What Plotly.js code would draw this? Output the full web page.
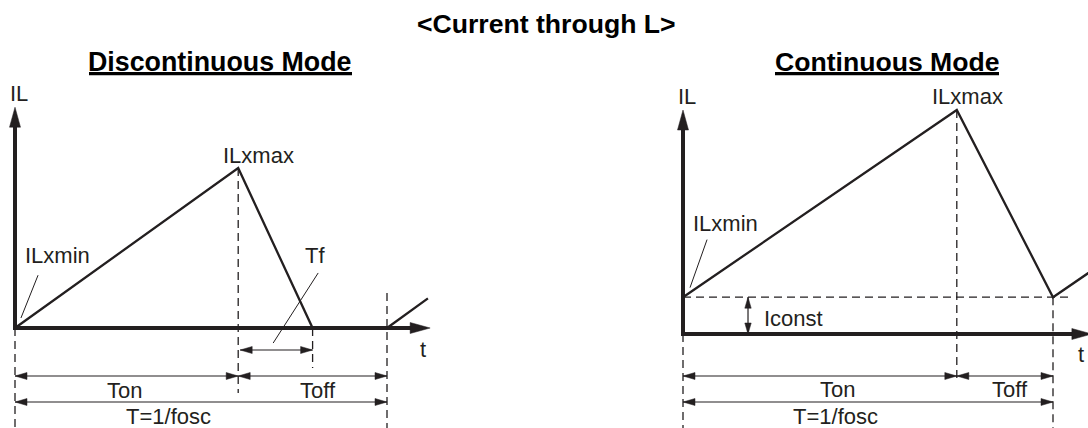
<!DOCTYPE html>
<html>
<head>
<meta charset="utf-8">
<script src="https://cdn.plot.ly/plotly-3.0.1.min.js"></script>
<style>html,body{margin:0;padding:0;background:#fff;}#chart{width:1088px;height:428px;}</style>
</head>
<body>
<div id="chart"></div>
<script>
// ---------- data ----------
// Discontinuous mode (left): time in units where T = 10, current normalised to ILxmax = 1
const dcmTime    = [0, 6, 8, 10, 11.1];
const dcmCurrent = [0, 1, 0, 0, 0.185];
const dcmTon = 6, dcmTfEnd = 8, dcmPeriod = 10, dcmPeak = 1;

// Continuous mode (right)
const ccmTime    = [0, 7.4, 10, 11.2];
const ccmCurrent = [0.23, 1.4, 0.23, 0.42];
const ccmTon = 7.4, ccmPeriod = 10, ccmPeak = 1.4, ccmIconst = 0.23;

const labelsLeft  = ['IL', 'ILxmax', 'ILxmin', 'Tf', 't', 'Ton', 'Toff', 'T=1/fosc'];
const labelsRight = ['IL', 'ILxmax', 'ILxmin', 'Iconst', 'Ton', 'Toff', 'T=1/fosc', 't'];
const mainTitle = '<Current through L>';
const subTitles = ['Discontinuous Mode', 'Continuous Mode'];

// ---------- styling / geometry ----------
const INK = '#231f20';
const FONT = 'Liberation Sans, Arial, Helvetica, sans-serif';
const W = 1088, H = 428;
const SL = {x: 37.2, y: 160};   // px per unit, left panel
const SR = {x: 37.0, y: 160};   // px per unit, right panel
const originL = {px: 15, py: 328};
const originR = {px: 683, py: 334};
const half = W / 2;

const yMinL = -(H - originL.py) / SL.y;
const yMinR = -(H - originR.py) / SR.y;

const traces = [];
function line(xs, ys, xa, ya, width, dash) {
  traces.push({type: 'scatter', mode: 'lines', x: xs, y: ys, xaxis: xa, yaxis: ya,
    line: {color: INK, width: width, dash: dash || 'solid'}, hoverinfo: 'skip'});
}
function head(tx, ty, dir, len, hw, s, xa, ya) {
  let xs, ys;
  const lx = len / s.x, ly = len / s.y, wx = hw / s.x, wy = hw / s.y;
  if (dir === 'right') { xs = [tx, tx - lx, tx - lx, tx]; ys = [ty, ty + wy, ty - wy, ty]; }
  if (dir === 'left')  { xs = [tx, tx + lx, tx + lx, tx]; ys = [ty, ty + wy, ty - wy, ty]; }
  if (dir === 'up')    { xs = [tx, tx - wx, tx + wx, tx]; ys = [ty, ty - ly, ty - ly, ty]; }
  if (dir === 'down')  { xs = [tx, tx - wx, tx + wx, tx]; ys = [ty, ty + ly, ty + ly, ty]; }
  traces.push({type: 'scatter', mode: 'lines', x: xs, y: ys, xaxis: xa, yaxis: ya, fill: 'toself',
    fillcolor: INK, line: {color: INK, width: 0.5}, hoverinfo: 'skip'});
}
function dimH(x0, x1, y, s, xa, ya) {
  line([x0, x1], [y, y], xa, ya, 1.2);
  head(x0, y, 'left', 12, 3.5, s, xa, ya);
  head(x1, y, 'right', 12, 3.5, s, xa, ya);
}
function dimV(x, y0, y1, s, xa, ya) {
  line([x, x], [y0, y1], xa, ya, 1.2);
  head(x, y0, 'down', 11, 3.2, s, xa, ya);
  head(x, y1, 'up', 11, 3.2, s, xa, ya);
}
const DASH = '8px,5px';

// ---------- left panel ----------
line([0, 0], [0, yMinL], 'x', 'y', 1.3, DASH);
line([dcmTon, dcmTon], [dcmPeak, -65 / SL.y], 'x', 'y', 1.3, DASH);
line([dcmTfEnd, dcmTfEnd], [0, -40 / SL.y], 'x', 'y', 1.3, DASH);
line([dcmPeriod, dcmPeriod], [35 / SL.y, yMinL], 'x', 'y', 1.3, DASH);
// waveform
traces.push({type: 'scatter', mode: 'lines', x: dcmTime, y: dcmCurrent, xaxis: 'x', yaxis: 'y',
  line: {color: INK, width: 2.3}, hoverinfo: 'skip'});
// axes
const tipYL = 1.38, tipXL = 11.16;
line([0, 0], [0, tipYL - 19 / SL.y], 'x', 'y', 4);
head(0, tipYL, 'up', 20, 5.5, SL, 'x', 'y');
line([-2 / SL.x, tipXL - 19 / SL.x], [0, 0], 'x', 'y', 4);
head(tipXL, 0, 'right', 20, 5.5, SL, 'x', 'y');
// dimensions
dimH(0, dcmTon, -48 / SL.y, SL, 'x', 'y');
dimH(dcmTon, dcmPeriod, -48 / SL.y, SL, 'x', 'y');
dimH(0, dcmPeriod, -74 / SL.y, SL, 'x', 'y');
dimH(dcmTon + 2 / SL.x, dcmTfEnd, -22 / SL.y, SL, 'x', 'y');
// leader lines
line([0.62, 0.16], [0.33, 0.0625], 'x', 'y', 1);
line([8.15, 6.94], [0.344, -0.094], 'x', 'y', 1);

// ---------- right panel ----------
line([0, 0], [0, yMinR], 'x2', 'y2', 1.3, DASH);
line([ccmTon, ccmTon], [ccmPeak, -46 / SR.y], 'x2', 'y2', 1.3, DASH);
line([ccmPeriod, ccmPeriod], [ccmIconst, yMinR], 'x2', 'y2', 1.3, DASH);
line([0, 10.54], [ccmIconst, ccmIconst], 'x2', 'y2', 1.3, DASH);
traces.push({type: 'scatter', mode: 'lines', x: ccmTime, y: ccmCurrent, xaxis: 'x2', yaxis: 'y2',
  line: {color: INK, width: 2.3}, hoverinfo: 'skip'});
const tipYR = 1.4, tipXR = 11.05;
line([0, 0], [0, tipYR - 19 / SR.y], 'x2', 'y2', 4);
head(0, tipYR, 'up', 20, 5.5, SR, 'x2', 'y2');
line([-2 / SR.x, tipXR - 19 / SR.x], [0, 0], 'x2', 'y2', 4);
head(tipXR, 0, 'right', 20, 5.5, SR, 'x2', 'y2');
dimH(0, ccmTon, -42 / SR.y, SR, 'x2', 'y2');
dimH(ccmTon, ccmPeriod, -42 / SR.y, SR, 'x2', 'y2');
dimH(0, ccmPeriod, -68 / SR.y, SR, 'x2', 'y2');
dimV(1.757, 0, ccmIconst, SR, 'x2', 'y2');
line([0.65, 0.19], [0.59, 0.29], 'x2', 'y2', 1);

// ---------- text ----------
function P(px, py) { return {x: px / W, y: 1 - py / H}; }
const annotations = [];
function txt(text, px, py, size, bold, anchor) {
  const p = P(px, py);
  annotations.push({xref: 'paper', yref: 'paper', x: p.x, y: p.y, text: bold ? '<b>' + text + '</b>' : text,
    showarrow: false, xanchor: anchor || 'center', yanchor: 'middle',
    font: {family: FONT, size: size, color: bold ? '#000' : INK}});
}
txt(mainTitle.replace('<', '&lt;').replace('>', '&gt;'), 546, 24, 26.6, true);
txt(subTitles[0], 220, 61.5, 26.8, true);
txt(subTitles[1], 887, 61.5, 26.6, true);

const posLeft = [[18.5, 93], [258, 155], [57, 256], [315, 256], [423, 349], [124, 390], [318, 390], [168, 416]];
labelsLeft.forEach((t, i) => txt(t, posLeft[i][0], posLeft[i][1], 22, false));
const posRight = [[687, 97], [967, 97], [725, 224], [793, 318], [837, 389], [1010, 389], [835, 416]];
labelsRight.slice(0, 7).forEach((t, i) => txt(t, posRight[i][0], posRight[i][1], 22, false));
txt(labelsRight[7], 1081, 354, 22, false);

// underlines of the two panel headings
const shapes = [[89, 352], [775, 999]].map(([a, b]) => ({
  type: 'line', xref: 'paper', yref: 'paper', x0: a / W, x1: b / W, y0: 1 - 73.6 / H, y1: 1 - 73.6 / H,
  line: {color: '#000', width: 3.4}
}));

const hidden = {visible: false, fixedrange: true};
const layout = {
  width: W, height: H, margin: {l: 0, r: 0, t: 0, b: 0},
  paper_bgcolor: '#fff', plot_bgcolor: '#fff', showlegend: false,
  xaxis: Object.assign({domain: [0, 0.5], range: [-originL.px / SL.x, (half - originL.px) / SL.x], anchor: 'y'}, hidden),
  yaxis: Object.assign({domain: [0, 1], range: [yMinL, originL.py / SL.y], anchor: 'x'}, hidden),
  xaxis2: Object.assign({domain: [0.5, 1], range: [-(originR.px - half) / SR.x, (W - originR.px) / SR.x], anchor: 'y2'}, hidden),
  yaxis2: Object.assign({domain: [0, 1], range: [yMinR, originR.py / SR.y], anchor: 'x2'}, hidden),
  annotations: annotations,
  shapes: shapes
};
Plotly.newPlot('chart', traces, layout, {staticPlot: true, displayModeBar: false});
</script>
</body>
</html>
